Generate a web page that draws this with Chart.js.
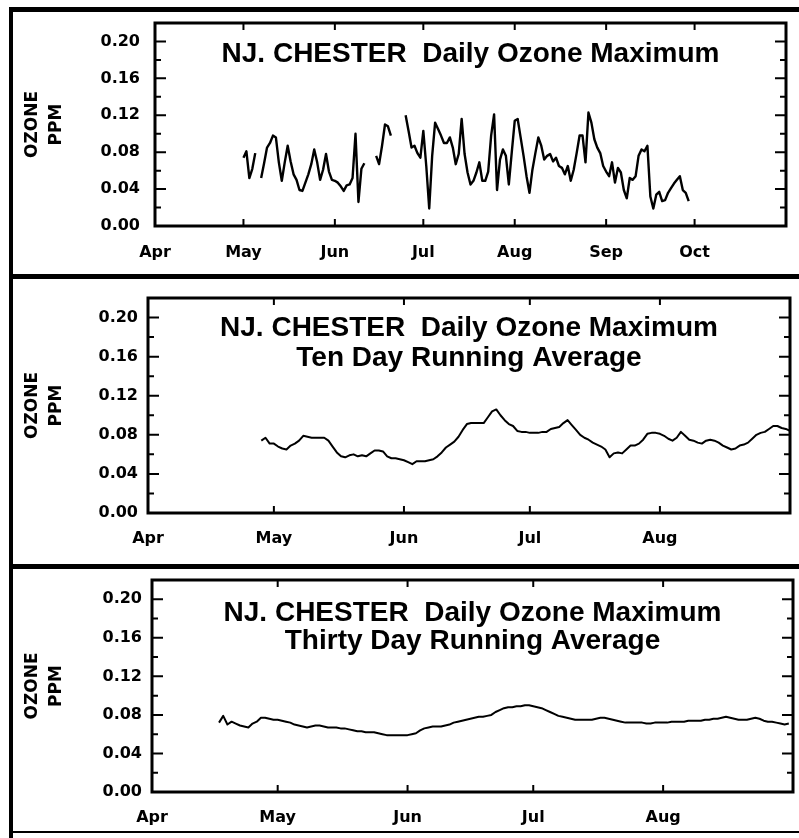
<!DOCTYPE html>
<html>
<head>
<meta charset="utf-8">
<script src="https://cdn.jsdelivr.net/npm/chart.js@4/dist/chart.umd.min.js"></script>
<style>
  html, body { margin: 0; padding: 0; background: #fff; }
  #page { position: relative; width: 799px; height: 838px; overflow: hidden; background: #fff; }
  .bar { position: absolute; background: #000; }
  canvas { position: absolute; }
</style>
</head>
<body>
<div id="page">
  <div class="bar" style="left:9px;top:7px;width:790px;height:5px"></div>
  <div class="bar" style="left:9px;top:7px;width:4px;height:831px"></div>
  <div class="bar" style="left:9px;top:274px;width:790px;height:5px"></div>
  <div class="bar" style="left:9px;top:564px;width:790px;height:5px"></div>
  <div class="bar" style="left:9px;top:831px;width:790px;height:2px"></div>
  <canvas id="daily" width="785" height="260" style="left:14px;top:13px"></canvas>
  <canvas id="tenDay" width="785" height="283" style="left:14px;top:280px"></canvas>
  <canvas id="thirtyDay" width="785" height="260" style="left:14px;top:570px"></canvas>
</div>
<script>
// days counted from Apr 1
const monthDays = [0, 30, 61, 91, 122, 153, 183, 214];
const monthNames = ["Apr", "May", "Jun", "Jul", "Aug", "Sep", "Oct", "Nov"];
const ozoneTicks = [0, 0.04, 0.08, 0.12, 0.16, 0.20];

const titleMain = "NJ. CHESTER  Daily Ozone Maximum";
const titleTen = "Ten Day Running Average";
const titleThirty = "Thirty Day Running Average";

// daily maximum, May 1 (day 30) .. Sep 29 (day 181), null = missing
const dailyStart = 30;
const dailyMax = [
  0.074, 0.081, 0.052, 0.062, 0.079, null, 0.052, 0.068, 0.085, 0.090,
  0.098, 0.096, 0.069, 0.049, 0.069, 0.087, 0.070, 0.056, 0.050, 0.039,
  0.038, 0.047, 0.056, 0.067, 0.083, 0.069, 0.050, 0.061, 0.078, 0.059,
  0.050, 0.049, 0.047, 0.043, 0.038, 0.044, 0.045, 0.052, 0.100, 0.026,
  0.062, 0.068, null, null, null, 0.076, 0.067, 0.087, 0.110, 0.108,
  0.098, null, null, null, null, 0.120, 0.103, 0.085, 0.087, 0.079,
  0.074, 0.103, 0.065, 0.019, 0.076, 0.112, 0.105, 0.098, 0.090, 0.090,
  0.096, 0.085, 0.067, 0.078, 0.116, 0.078, 0.058, 0.045, 0.049, 0.058,
  0.069, 0.049, 0.049, 0.059, 0.098, 0.121, 0.039, 0.072, 0.083, 0.076,
  0.045, 0.080, 0.114, 0.116, 0.096, 0.076, 0.054, 0.036, 0.061, 0.079,
  0.096, 0.087, 0.072, 0.076, 0.078, 0.070, 0.074, 0.065, 0.063, 0.056,
  0.065, 0.049, 0.061, 0.079, 0.098, 0.098, 0.069, 0.123, 0.112, 0.094,
  0.085, 0.079, 0.065, 0.059, 0.054, 0.069, 0.047, 0.063, 0.058, 0.039,
  0.030, 0.052, 0.050, 0.054, 0.076, 0.083, 0.081, 0.087, 0.032, 0.019,
  0.034, 0.037, 0.027, 0.028, 0.036, 0.041, 0.046, 0.050, 0.054, 0.039,
  0.036, 0.027
];

// ten day running average, Apr 28 (day 27) .. Sep 1 (day 153)
const tenDayStart = 27;
const tenDayAvg = [
  0.074, 0.077, 0.071, 0.071, 0.068, 0.066, 0.065, 0.069, 0.071, 0.074,
  0.079, 0.078, 0.077, 0.077, 0.077, 0.077, 0.074, 0.068, 0.062, 0.058,
  0.057, 0.059, 0.060, 0.058, 0.059, 0.058, 0.061, 0.064, 0.064, 0.063,
  0.058, 0.056, 0.056, 0.055, 0.054, 0.052, 0.050, 0.053, 0.053, 0.053,
  0.054, 0.055, 0.058, 0.062, 0.067, 0.070, 0.073, 0.078, 0.085, 0.091,
  0.092, 0.092, 0.092, 0.092, 0.098, 0.104, 0.106, 0.100, 0.095, 0.091,
  0.089, 0.084, 0.083, 0.083, 0.082, 0.082, 0.082, 0.083, 0.083, 0.086,
  0.087, 0.088, 0.092, 0.095, 0.090, 0.085, 0.080, 0.077, 0.075, 0.072,
  0.070, 0.068, 0.065, 0.057, 0.061, 0.062, 0.061, 0.065, 0.069, 0.069,
  0.071, 0.075, 0.081, 0.082, 0.082, 0.081, 0.079, 0.076, 0.074, 0.077,
  0.083, 0.079, 0.075, 0.074, 0.072, 0.071, 0.074, 0.075, 0.074, 0.072,
  0.069, 0.067, 0.065, 0.066, 0.069, 0.070, 0.072, 0.076, 0.080, 0.082,
  0.083, 0.086, 0.089, 0.089, 0.087, 0.086, 0.084
];

// thirty day running average, Apr 17 (day 16) .. Sep 1 (day 152)
const thirtyDayStart = 16;
const thirtyDayAvg = [
  0.072, 0.079, 0.070, 0.073, 0.071, 0.069, 0.068, 0.067, 0.071, 0.073,
  0.077, 0.077, 0.076, 0.075, 0.075, 0.074, 0.073, 0.072, 0.070, 0.069,
  0.068, 0.067, 0.068, 0.069, 0.069, 0.068, 0.067, 0.067, 0.067, 0.066,
  0.066, 0.065, 0.064, 0.063, 0.063, 0.062, 0.062, 0.062, 0.061, 0.060,
  0.059, 0.059, 0.059, 0.059, 0.059, 0.059, 0.060, 0.061, 0.064, 0.066,
  0.067, 0.068, 0.068, 0.068, 0.069, 0.070, 0.072, 0.073, 0.074, 0.075,
  0.076, 0.077, 0.078, 0.078, 0.079, 0.080, 0.083, 0.085, 0.087, 0.088,
  0.088, 0.089, 0.089, 0.090, 0.090, 0.089, 0.088, 0.087, 0.085, 0.083,
  0.081, 0.079, 0.078, 0.077, 0.076, 0.075, 0.075, 0.075, 0.075, 0.075,
  0.076, 0.077, 0.077, 0.076, 0.075, 0.074, 0.073, 0.072, 0.072, 0.072,
  0.072, 0.072, 0.071, 0.071, 0.072, 0.072, 0.072, 0.072, 0.073, 0.073,
  0.073, 0.073, 0.074, 0.074, 0.074, 0.074, 0.075, 0.075, 0.076, 0.076,
  0.077, 0.078, 0.077, 0.076, 0.075, 0.075, 0.075, 0.076, 0.077, 0.076,
  0.074, 0.073, 0.073, 0.072, 0.071, 0.070, 0.071
];

// plot frame, inward ticks and the title written inside the plot
const frameAndTicks = {
  id: "frameAndTicks",
  afterDatasetsDraw(chart, args, opts) {
    const { ctx, chartArea: a, scales: { x, y } } = chart;
    ctx.save();
    ctx.strokeStyle = "#000";
    ctx.lineWidth = 3;
    ctx.strokeRect(a.left, a.top, a.right - a.left, a.bottom - a.top);

    ctx.lineWidth = 2;
    ctx.beginPath();
    x.ticks.forEach(t => {
      const px = x.getPixelForValue(t.value);
      ctx.moveTo(px, a.bottom); ctx.lineTo(px, a.bottom - 7);
      ctx.moveTo(px, a.top); ctx.lineTo(px, a.top + 7);
    });
    y.ticks.forEach((t, i) => {
      const py = y.getPixelForValue(t.value);
      ctx.moveTo(a.left, py); ctx.lineTo(a.left + 11, py);
      ctx.moveTo(a.right, py); ctx.lineTo(a.right - 11, py);
      const next = y.ticks[i + 1];
      if (next) {
        const pm = y.getPixelForValue((t.value + next.value) / 2);
        ctx.moveTo(a.left, pm); ctx.lineTo(a.left + 6, pm);
        ctx.moveTo(a.right, pm); ctx.lineTo(a.right - 6, pm);
      }
    });
    ctx.stroke();

    ctx.fillStyle = "#000";
    ctx.font = "bold 28px 'Liberation Sans', Arial, sans-serif";
    ctx.textAlign = "center";
    ctx.textBaseline = "alphabetic";
    const cx = (a.left + a.right) / 2;
    opts.lines.forEach((line, i) => {
      ctx.fillText(line, cx, a.top + opts.baselines[i]);
    });
    ctx.restore();
  }
};

function makeChart(id, cfg) {
  const points = cfg.values.map((v, i) => ({ x: cfg.start + i, y: v }));
  const ticksFont = { family: "'DejaVu Sans', sans-serif", size: 16, weight: "bold" };
  return new Chart(document.getElementById(id), {
    type: "line",
    data: {
      datasets: [{
        data: points,
        borderColor: "#000",
        borderWidth: cfg.lineWidth,
        pointRadius: 0,
        tension: 0,
        spanGaps: false,
        borderJoinStyle: "round"
      }]
    },
    options: {
      responsive: false,
      animation: false,
      events: [],
      layout: { padding: { top: cfg.top, right: cfg.right, left: 0, bottom: 0 } },
      plugins: {
        legend: { display: false },
        tooltip: { enabled: false },
        frameAndTicks: { lines: cfg.titles, baselines: cfg.baselines }
      },
      scales: {
        x: {
          type: "linear",
          min: 0,
          max: cfg.xMax,
          grid: { display: false, drawTicks: false },
          border: { display: false },
          afterBuildTicks: s => {
            s.ticks = monthDays.filter(d => d < cfg.xMax).map(d => ({ value: d }));
          },
          afterFit: s => {
            s.height = cfg.xAxisHeight;
            s.paddingLeft = 0;
            s.paddingRight = 0;
          },
          ticks: {
            autoSkip: false,
            maxRotation: 0,
            padding: cfg.xPad,
            color: "#000",
            font: ticksFont,
            callback: v => monthNames[monthDays.indexOf(v)]
          }
        },
        y: {
          type: "linear",
          min: 0,
          max: 0.22,
          grid: { display: false, drawTicks: false },
          border: { display: false },
          afterBuildTicks: s => { s.ticks = ozoneTicks.map(v => ({ value: v })); },
          afterFit: s => {
            s.width = cfg.yAxisWidth;
            s.paddingTop = 0;
            s.paddingBottom = 0;
          },
          ticks: {
            padding: cfg.yPad,
            color: "#000",
            font: ticksFont,
            callback: v => v.toFixed(2)
          },
          title: {
            display: true,
            text: ["OZONE", "PPM"],
            color: "#000",
            padding: { top: 7, bottom: 0 },
            font: { family: "'DejaVu Sans', sans-serif", size: 17, weight: "bold", lineHeight: 1.4 }
          }
        }
      }
    },
    plugins: [frameAndTicks]
  });
}

makeChart("daily", {
  values: dailyMax, start: dailyStart, xMax: 214, lineWidth: 2.4,
  top: 10, right: 13, xAxisHeight: 47, yAxisWidth: 141, xPad: 17, yPad: 15,
  titles: [titleMain], baselines: [39]
});
makeChart("tenDay", {
  values: tenDayAvg, start: tenDayStart, xMax: 153, lineWidth: 2,
  top: 18, right: 9, xAxisHeight: 50, yAxisWidth: 134, xPad: 16, yPad: 10,
  titles: [titleMain, titleTen], baselines: [38, 68]
});
makeChart("thirtyDay", {
  values: thirtyDayAvg, start: thirtyDayStart, xMax: 153, lineWidth: 2,
  top: 10, right: 6, xAxisHeight: 38, yAxisWidth: 138, xPad: 16, yPad: 10,
  titles: [titleMain, titleThirty], baselines: [41, 69]
});
</script>
</body>
</html>
